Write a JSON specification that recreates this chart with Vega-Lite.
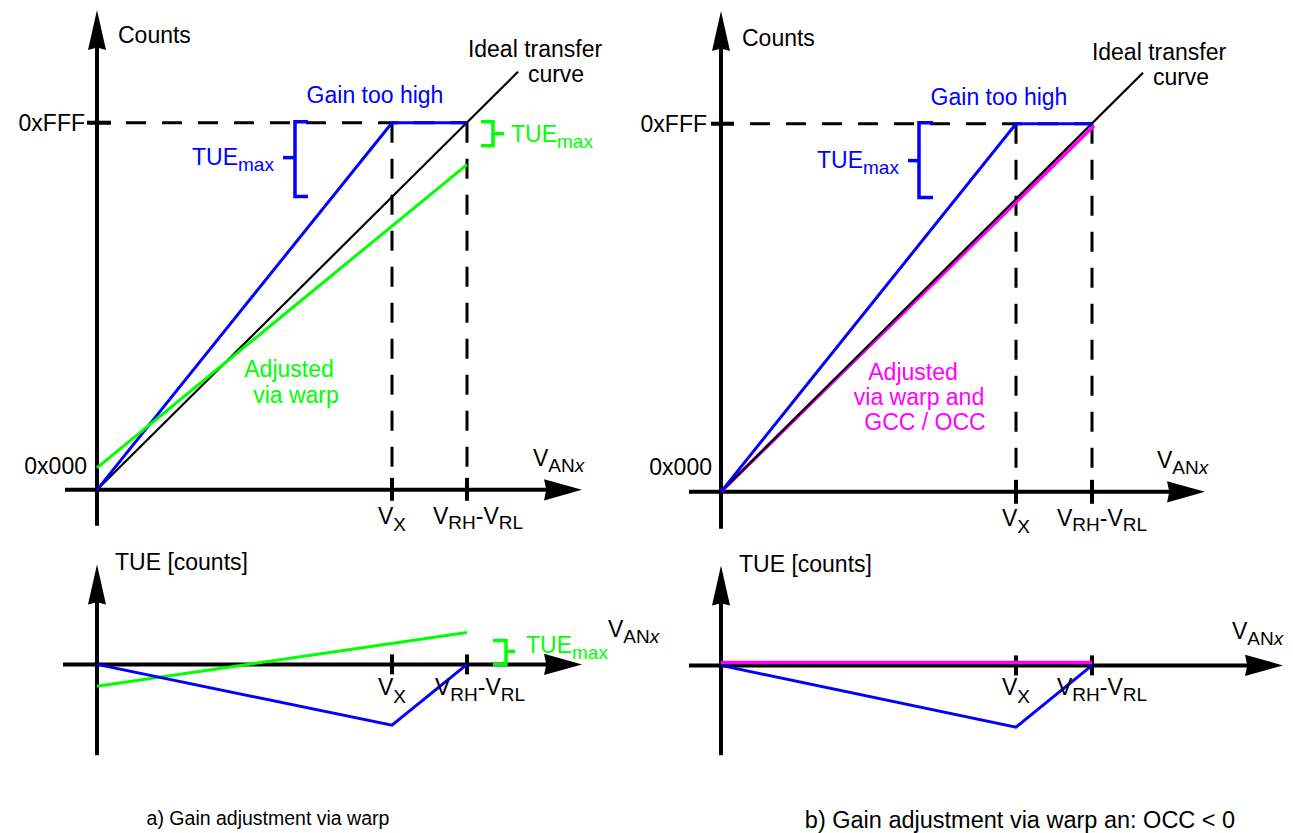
{
  "$schema": "https://vega.github.io/schema/vega-lite/v6.json",
  "width": 1293,
  "height": 833,
  "autosize": {"type": "fit", "contains": "padding"},
  "padding": 0,
  "background": "white",
  "config": {"view": {"stroke": null}, "text": {"font": "Liberation Sans"}},
  "datasets": {
    "lines": [
      {"id": "tl_y", "role": "axis", "series": "axis", "seq": 0, "x": 97, "y": 40},
      {"id": "tl_y", "role": "axis", "series": "axis", "seq": 1, "x": 97, "y": 527},
      {"id": "tl_x", "role": "axis", "series": "axis", "seq": 0, "x": 65, "y": 491},
      {"id": "tl_x", "role": "axis", "series": "axis", "seq": 1, "x": 560, "y": 491},
      {"id": "tl_t0", "role": "axis", "series": "axis", "seq": 0, "x": 87, "y": 123},
      {"id": "tl_t0", "role": "axis", "series": "axis", "seq": 1, "x": 111, "y": 123},
      {"id": "tl_t1", "role": "axis", "series": "axis", "seq": 0, "x": 392, "y": 479},
      {"id": "tl_t1", "role": "axis", "series": "axis", "seq": 1, "x": 392, "y": 502},
      {"id": "tl_t2", "role": "axis", "series": "axis", "seq": 0, "x": 467, "y": 479},
      {"id": "tl_t2", "role": "axis", "series": "axis", "seq": 1, "x": 467, "y": 502},
      {"id": "tl_d0", "role": "dash", "series": "axis", "seq": 0, "x": 90, "y": 123},
      {"id": "tl_d0", "role": "dash", "series": "axis", "seq": 1, "x": 467, "y": 123},
      {"id": "tl_d1", "role": "dash", "series": "axis", "seq": 0, "x": 392, "y": 123},
      {"id": "tl_d1", "role": "dash", "series": "axis", "seq": 1, "x": 392, "y": 479},
      {"id": "tl_d2", "role": "dash", "series": "axis", "seq": 0, "x": 467, "y": 123},
      {"id": "tl_d2", "role": "dash", "series": "axis", "seq": 1, "x": 467, "y": 479},
      {"id": "tl_i", "role": "ideal", "series": "ideal", "seq": 0, "x": 97, "y": 491},
      {"id": "tl_i", "role": "ideal", "series": "ideal", "seq": 1, "x": 518, "y": 72},
      {"id": "tl_g", "role": "curve", "series": "gain", "seq": 0, "x": 97, "y": 491},
      {"id": "tl_g", "role": "curve", "series": "gain", "seq": 1, "x": 392, "y": 123},
      {"id": "tl_g", "role": "curve", "series": "gain", "seq": 2, "x": 467, "y": 123},
      {"id": "tl_w", "role": "curve", "series": "warp", "seq": 0, "x": 97, "y": 469},
      {"id": "tl_w", "role": "curve", "series": "warp", "seq": 1, "x": 467, "y": 165},
      {"id": "tl_b1", "role": "bracket", "series": "gain", "seq": 0, "x": 308, "y": 122},
      {"id": "tl_b1", "role": "bracket", "series": "gain", "seq": 1, "x": 295, "y": 122},
      {"id": "tl_b1", "role": "bracket", "series": "gain", "seq": 2, "x": 295, "y": 197},
      {"id": "tl_b1", "role": "bracket", "series": "gain", "seq": 3, "x": 308, "y": 197},
      {"id": "tl_b2", "role": "bracket", "series": "gain", "seq": 0, "x": 283, "y": 158},
      {"id": "tl_b2", "role": "bracket", "series": "gain", "seq": 1, "x": 295, "y": 158},
      {"id": "tl_b3", "role": "bracket", "series": "warp", "seq": 0, "x": 481, "y": 122},
      {"id": "tl_b3", "role": "bracket", "series": "warp", "seq": 1, "x": 493, "y": 122},
      {"id": "tl_b3", "role": "bracket", "series": "warp", "seq": 2, "x": 493, "y": 146},
      {"id": "tl_b3", "role": "bracket", "series": "warp", "seq": 3, "x": 481, "y": 146},
      {"id": "tl_b4", "role": "bracket", "series": "warp", "seq": 0, "x": 493, "y": 134},
      {"id": "tl_b4", "role": "bracket", "series": "warp", "seq": 1, "x": 504, "y": 134},

      {"id": "bl_y", "role": "axis", "series": "axis", "seq": 0, "x": 97, "y": 600},
      {"id": "bl_y", "role": "axis", "series": "axis", "seq": 1, "x": 97, "y": 757},
      {"id": "bl_x", "role": "axis", "series": "axis", "seq": 0, "x": 63, "y": 666},
      {"id": "bl_x", "role": "axis", "series": "axis", "seq": 1, "x": 560, "y": 666},
      {"id": "bl_t1", "role": "axis", "series": "axis", "seq": 0, "x": 392, "y": 656},
      {"id": "bl_t1", "role": "axis", "series": "axis", "seq": 1, "x": 392, "y": 676},
      {"id": "bl_t2", "role": "axis", "series": "axis", "seq": 0, "x": 467, "y": 656},
      {"id": "bl_t2", "role": "axis", "series": "axis", "seq": 1, "x": 467, "y": 676},
      {"id": "bl_w", "role": "curve", "series": "warp", "seq": 0, "x": 97, "y": 688},
      {"id": "bl_w", "role": "curve", "series": "warp", "seq": 1, "x": 467, "y": 634},
      {"id": "bl_g", "role": "curve", "series": "gain", "seq": 0, "x": 97, "y": 666},
      {"id": "bl_g", "role": "curve", "series": "gain", "seq": 1, "x": 392, "y": 727},
      {"id": "bl_g", "role": "curve", "series": "gain", "seq": 2, "x": 467, "y": 666},
      {"id": "bl_b1", "role": "bracket", "series": "warp", "seq": 0, "x": 493, "y": 642},
      {"id": "bl_b1", "role": "bracket", "series": "warp", "seq": 1, "x": 506, "y": 642},
      {"id": "bl_b1", "role": "bracket", "series": "warp", "seq": 2, "x": 506, "y": 666},
      {"id": "bl_b1", "role": "bracket", "series": "warp", "seq": 3, "x": 493, "y": 666},
      {"id": "bl_b2", "role": "bracket", "series": "warp", "seq": 0, "x": 506, "y": 653},
      {"id": "bl_b2", "role": "bracket", "series": "warp", "seq": 1, "x": 515, "y": 653},

      {"id": "tr_y", "role": "axis", "series": "axis", "seq": 0, "x": 721, "y": 40},
      {"id": "tr_y", "role": "axis", "series": "axis", "seq": 1, "x": 721, "y": 530},
      {"id": "tr_x", "role": "axis", "series": "axis", "seq": 0, "x": 689, "y": 493},
      {"id": "tr_x", "role": "axis", "series": "axis", "seq": 1, "x": 1185, "y": 493},
      {"id": "tr_t0", "role": "axis", "series": "axis", "seq": 0, "x": 711, "y": 124},
      {"id": "tr_t0", "role": "axis", "series": "axis", "seq": 1, "x": 734, "y": 124},
      {"id": "tr_t1", "role": "axis", "series": "axis", "seq": 0, "x": 1016, "y": 481},
      {"id": "tr_t1", "role": "axis", "series": "axis", "seq": 1, "x": 1016, "y": 505},
      {"id": "tr_t2", "role": "axis", "series": "axis", "seq": 0, "x": 1092, "y": 481},
      {"id": "tr_t2", "role": "axis", "series": "axis", "seq": 1, "x": 1092, "y": 505},
      {"id": "tr_d0", "role": "dash", "series": "axis", "seq": 0, "x": 714, "y": 124},
      {"id": "tr_d0", "role": "dash", "series": "axis", "seq": 1, "x": 1092, "y": 124},
      {"id": "tr_d1", "role": "dash", "series": "axis", "seq": 0, "x": 1016, "y": 124},
      {"id": "tr_d1", "role": "dash", "series": "axis", "seq": 1, "x": 1016, "y": 481},
      {"id": "tr_d2", "role": "dash", "series": "axis", "seq": 0, "x": 1092, "y": 124},
      {"id": "tr_d2", "role": "dash", "series": "axis", "seq": 1, "x": 1092, "y": 481},
      {"id": "tr_o", "role": "occ", "series": "occ", "seq": 0, "x": 721, "y": 493},
      {"id": "tr_o", "role": "occ", "series": "occ", "seq": 1, "x": 1094, "y": 126},
      {"id": "tr_i", "role": "ideal", "series": "ideal", "seq": 0, "x": 721, "y": 493},
      {"id": "tr_i", "role": "ideal", "series": "ideal", "seq": 1, "x": 1143, "y": 73},
      {"id": "tr_g", "role": "curve", "series": "gain", "seq": 0, "x": 721, "y": 493},
      {"id": "tr_g", "role": "curve", "series": "gain", "seq": 1, "x": 1016, "y": 124},
      {"id": "tr_g", "role": "curve", "series": "gain", "seq": 2, "x": 1092, "y": 124},
      {"id": "tr_b1", "role": "bracket", "series": "gain", "seq": 0, "x": 933, "y": 123},
      {"id": "tr_b1", "role": "bracket", "series": "gain", "seq": 1, "x": 919, "y": 123},
      {"id": "tr_b1", "role": "bracket", "series": "gain", "seq": 2, "x": 919, "y": 198},
      {"id": "tr_b1", "role": "bracket", "series": "gain", "seq": 3, "x": 933, "y": 198},
      {"id": "tr_b2", "role": "bracket", "series": "gain", "seq": 0, "x": 908, "y": 161},
      {"id": "tr_b2", "role": "bracket", "series": "gain", "seq": 1, "x": 919, "y": 161},

      {"id": "br_y", "role": "axis", "series": "axis", "seq": 0, "x": 721, "y": 600},
      {"id": "br_y", "role": "axis", "series": "axis", "seq": 1, "x": 721, "y": 757},
      {"id": "br_x", "role": "axis", "series": "axis", "seq": 0, "x": 689, "y": 667},
      {"id": "br_x", "role": "axis", "series": "axis", "seq": 1, "x": 1262, "y": 667},
      {"id": "br_t1", "role": "axis", "series": "axis", "seq": 0, "x": 1016, "y": 657},
      {"id": "br_t1", "role": "axis", "series": "axis", "seq": 1, "x": 1016, "y": 677},
      {"id": "br_t2", "role": "axis", "series": "axis", "seq": 0, "x": 1092, "y": 657},
      {"id": "br_t2", "role": "axis", "series": "axis", "seq": 1, "x": 1092, "y": 677},
      {"id": "br_o", "role": "occ", "series": "occ", "seq": 0, "x": 721, "y": 664},
      {"id": "br_o", "role": "occ", "series": "occ", "seq": 1, "x": 1092, "y": 664},
      {"id": "br_g", "role": "curve", "series": "gain", "seq": 0, "x": 721, "y": 667},
      {"id": "br_g", "role": "curve", "series": "gain", "seq": 1, "x": 1016, "y": 729},
      {"id": "br_g", "role": "curve", "series": "gain", "seq": 2, "x": 1092, "y": 667}
    ],
    "arrows": [
      {"dir": "up", "series": "axis", "x": 97, "y": 30},
      {"dir": "up", "series": "axis", "x": 721, "y": 31},
      {"dir": "up", "series": "axis", "x": 97, "y": 586},
      {"dir": "up", "series": "axis", "x": 721, "y": 587},
      {"dir": "right", "series": "axis", "x": 563, "y": 491},
      {"dir": "right", "series": "axis", "x": 1186, "y": 493},
      {"dir": "right", "series": "axis", "x": 563, "y": 666},
      {"dir": "right", "series": "axis", "x": 1264, "y": 667}
    ],
    "labels": [
      {"role": "left", "series": "text", "text": "Counts", "x": 118, "y": 43},
      {"role": "left", "series": "gain", "text": "TUE", "x": 192, "y": 165},
      {"role": "sub", "series": "gain", "text": "max", "x": 238, "y": 171},
      {"role": "left", "series": "warp", "text": "TUE", "x": 511, "y": 142},
      {"role": "sub", "series": "warp", "text": "max", "x": 557, "y": 148},
      {"role": "left", "series": "text", "text": "V", "x": 533, "y": 467},
      {"role": "sub", "series": "text", "text": "AN", "x": 548.3, "y": 473},
      {"role": "subital", "series": "text", "text": "x", "x": 574.7, "y": 473},
      {"role": "left", "series": "text", "text": "V", "x": 378, "y": 525},
      {"role": "sub", "series": "text", "text": "X", "x": 393.3, "y": 532},
      {"role": "left", "series": "text", "text": "V", "x": 433, "y": 525},
      {"role": "sub", "series": "text", "text": "RH", "x": 448.3, "y": 530},
      {"role": "left", "series": "text", "text": "-", "x": 475.7, "y": 525},
      {"role": "left", "series": "text", "text": "V", "x": 483.4, "y": 525},
      {"role": "sub", "series": "text", "text": "RL", "x": 498.7, "y": 530},
      {"role": "center", "series": "gain", "text": "Gain too high", "x": 375, "y": 103},
      {"role": "center", "series": "text", "text": "Ideal transfer", "x": 535, "y": 57},
      {"role": "center", "series": "text", "text": "curve", "x": 556, "y": 82},
      {"role": "center", "series": "warp", "text": "Adjusted", "x": 289, "y": 378},
      {"role": "center", "series": "warp", "text": "via warp", "x": 296, "y": 404},
      {"role": "right", "series": "text", "text": "0xFFF", "x": 85, "y": 131},
      {"role": "right", "series": "text", "text": "0x000", "x": 87, "y": 475},

      {"role": "left", "series": "text", "text": "TUE [counts]", "x": 115, "y": 571},
      {"role": "left", "series": "warp", "text": "TUE", "x": 526, "y": 655},
      {"role": "sub", "series": "warp", "text": "max", "x": 572, "y": 661},
      {"role": "left", "series": "text", "text": "V", "x": 608, "y": 639},
      {"role": "sub", "series": "text", "text": "AN", "x": 623.3, "y": 645},
      {"role": "subital", "series": "text", "text": "x", "x": 649.7, "y": 645},
      {"role": "left", "series": "text", "text": "V", "x": 378, "y": 697},
      {"role": "sub", "series": "text", "text": "X", "x": 393.3, "y": 705},
      {"role": "left", "series": "text", "text": "V", "x": 435, "y": 697},
      {"role": "sub", "series": "text", "text": "RH", "x": 450.3, "y": 703},
      {"role": "left", "series": "text", "text": "-", "x": 477.7, "y": 697},
      {"role": "left", "series": "text", "text": "V", "x": 485.4, "y": 697},
      {"role": "sub", "series": "text", "text": "RL", "x": 500.7, "y": 703},

      {"role": "left", "series": "text", "text": "Counts", "x": 742, "y": 46},
      {"role": "left", "series": "gain", "text": "TUE", "x": 817, "y": 168},
      {"role": "sub", "series": "gain", "text": "max", "x": 863, "y": 174},
      {"role": "left", "series": "text", "text": "V", "x": 1157, "y": 469},
      {"role": "sub", "series": "text", "text": "AN", "x": 1172.3, "y": 475},
      {"role": "subital", "series": "text", "text": "x", "x": 1198.7, "y": 475},
      {"role": "left", "series": "text", "text": "V", "x": 1002, "y": 527},
      {"role": "sub", "series": "text", "text": "X", "x": 1017.3, "y": 534},
      {"role": "left", "series": "text", "text": "V", "x": 1057, "y": 527},
      {"role": "sub", "series": "text", "text": "RH", "x": 1072.3, "y": 532},
      {"role": "left", "series": "text", "text": "-", "x": 1099.7, "y": 527},
      {"role": "left", "series": "text", "text": "V", "x": 1107.4, "y": 527},
      {"role": "sub", "series": "text", "text": "RL", "x": 1122.7, "y": 532},
      {"role": "center", "series": "gain", "text": "Gain too high", "x": 999, "y": 105},
      {"role": "center", "series": "text", "text": "Ideal transfer", "x": 1159, "y": 60},
      {"role": "center", "series": "text", "text": "curve", "x": 1181, "y": 85},
      {"role": "center", "series": "occ", "text": "Adjusted", "x": 913, "y": 381},
      {"role": "center", "series": "occ", "text": "via warp and", "x": 919, "y": 406},
      {"role": "center", "series": "occ", "text": "GCC / OCC", "x": 925, "y": 431},
      {"role": "right", "series": "text", "text": "0xFFF", "x": 707, "y": 132},
      {"role": "right", "series": "text", "text": "0x000", "x": 712, "y": 476},

      {"role": "left", "series": "text", "text": "TUE [counts]", "x": 739, "y": 573},
      {"role": "left", "series": "text", "text": "V", "x": 1232, "y": 641},
      {"role": "sub", "series": "text", "text": "AN", "x": 1247.3, "y": 647},
      {"role": "subital", "series": "text", "text": "x", "x": 1273.7, "y": 647},
      {"role": "left", "series": "text", "text": "V", "x": 1002, "y": 697},
      {"role": "sub", "series": "text", "text": "X", "x": 1017.3, "y": 705},
      {"role": "left", "series": "text", "text": "V", "x": 1057, "y": 697},
      {"role": "sub", "series": "text", "text": "RH", "x": 1072.3, "y": 703},
      {"role": "left", "series": "text", "text": "-", "x": 1099.7, "y": 697},
      {"role": "left", "series": "text", "text": "V", "x": 1107.4, "y": 697},
      {"role": "sub", "series": "text", "text": "RL", "x": 1122.7, "y": 703},

      {"role": "caption", "series": "text", "text": "a) Gain adjustment via warp", "x": 268, "y": 827},
      {"role": "caption2", "series": "text", "text": "b) Gain adjustment via warp an: OCC < 0", "x": 1020, "y": 830}
    ]
  },
  "encoding": {
    "x": {"field": "x", "type": "quantitative", "scale": {"domain": [0, 1293], "nice": false, "zero": false}, "axis": null},
    "y": {"field": "y", "type": "quantitative", "scale": {"domain": [0, 833], "reverse": true, "nice": false, "zero": false}, "axis": null},
    "color": {
      "field": "series", "type": "nominal", "legend": null,
      "scale": {"domain": ["axis", "ideal", "text", "gain", "warp", "occ"], "range": ["#000000", "#000000", "#000000", "#0000ff", "#00ff00", "#ff00ff"]}
    }
  },
  "layer": [
    {"data": {"name": "lines"}, "transform": [{"filter": "datum.role === 'dash'"}],
     "mark": {"type": "line", "strokeWidth": 3, "strokeDash": [20, 16]},
     "encoding": {"detail": {"field": "id"}, "order": {"field": "seq"}}},
    {"data": {"name": "lines"}, "transform": [{"filter": "datum.role === 'axis'"}],
     "mark": {"type": "line", "strokeWidth": 4},
     "encoding": {"detail": {"field": "id"}, "order": {"field": "seq"}}},
    {"data": {"name": "lines"}, "transform": [{"filter": "datum.role === 'occ'"}],
     "mark": {"type": "line", "strokeWidth": 3.5},
     "encoding": {"detail": {"field": "id"}, "order": {"field": "seq"}}},
    {"data": {"name": "lines"}, "transform": [{"filter": "datum.role === 'ideal'"}],
     "mark": {"type": "line", "strokeWidth": 2.2},
     "encoding": {"detail": {"field": "id"}, "order": {"field": "seq"}}},
    {"data": {"name": "lines"}, "transform": [{"filter": "datum.role === 'curve'"}],
     "mark": {"type": "line", "strokeWidth": 3},
     "encoding": {"detail": {"field": "id"}, "order": {"field": "seq"}}},
    {"data": {"name": "lines"}, "transform": [{"filter": "datum.role === 'bracket'"}],
     "mark": {"type": "line", "strokeWidth": 3.5},
     "encoding": {"detail": {"field": "id"}, "order": {"field": "seq"}}},
    {"data": {"name": "arrows"}, "transform": [{"filter": "datum.dir === 'up'"}],
     "mark": {"type": "point", "shape": "M0,-1L0.45,1L0,0.88L-0.45,1Z", "size": 1600, "filled": true, "opacity": 1, "strokeWidth": 0},
     "encoding": {}},
    {"data": {"name": "arrows"}, "transform": [{"filter": "datum.dir === 'right'"}],
     "mark": {"type": "point", "shape": "M1,0L-1,0.56L-0.88,0L-1,-0.56Z", "size": 1444, "filled": true, "opacity": 1, "strokeWidth": 0},
     "encoding": {}},
    {"data": {"name": "labels"}, "transform": [{"filter": "datum.role === 'left'"}],
     "mark": {"type": "text", "align": "left", "baseline": "alphabetic", "fontSize": 23},
     "encoding": {"text": {"field": "text"}}},
    {"data": {"name": "labels"}, "transform": [{"filter": "datum.role === 'center'"}],
     "mark": {"type": "text", "align": "center", "baseline": "alphabetic", "fontSize": 23},
     "encoding": {"text": {"field": "text"}}},
    {"data": {"name": "labels"}, "transform": [{"filter": "datum.role === 'right'"}],
     "mark": {"type": "text", "align": "right", "baseline": "alphabetic", "fontSize": 23},
     "encoding": {"text": {"field": "text"}}},
    {"data": {"name": "labels"}, "transform": [{"filter": "datum.role === 'sub'"}],
     "mark": {"type": "text", "align": "left", "baseline": "alphabetic", "fontSize": 19},
     "encoding": {"text": {"field": "text"}}},
    {"data": {"name": "labels"}, "transform": [{"filter": "datum.role === 'subital'"}],
     "mark": {"type": "text", "align": "left", "baseline": "alphabetic", "fontSize": 19, "fontStyle": "italic"},
     "encoding": {"text": {"field": "text"}}},
    {"data": {"name": "labels"}, "transform": [{"filter": "datum.role === 'caption'"}],
     "mark": {"type": "text", "align": "center", "baseline": "alphabetic", "fontSize": 19.5},
     "encoding": {"text": {"field": "text"}}},
    {"data": {"name": "labels"}, "transform": [{"filter": "datum.role === 'caption2'"}],
     "mark": {"type": "text", "align": "center", "baseline": "alphabetic", "fontSize": 23.5},
     "encoding": {"text": {"field": "text"}}}
  ]
}
